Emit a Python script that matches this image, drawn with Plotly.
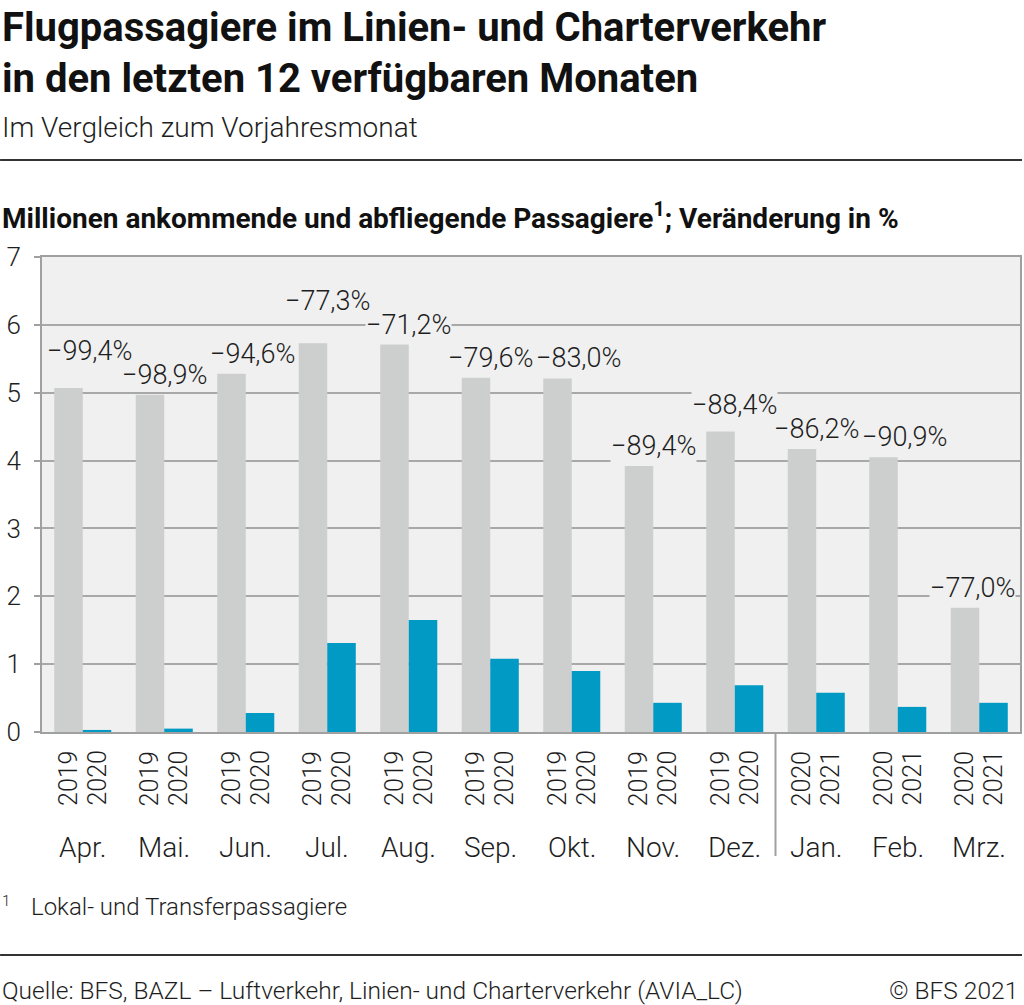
import plotly.graph_objects as go

# ---- data ----
months = ["Apr.", "Mai.", "Jun.", "Jul.", "Aug.", "Sep.", "Okt.", "Nov.", "Dez.", "Jan.", "Feb.", "Mrz."]
prev_year = ["2019"] * 9 + ["2020"] * 3
curr_year = ["2020"] * 9 + ["2021"] * 3
prev_values = [5.07, 4.97, 5.28, 5.73, 5.71, 5.22, 5.21, 3.92, 4.43, 4.17, 4.05, 1.83]
curr_values = [0.03, 0.05, 0.28, 1.31, 1.65, 1.08, 0.90, 0.43, 0.69, 0.58, 0.37, 0.43]
pct_labels = ["−99,4%", "−98,9%", "−94,6%", "−77,3%", "−71,2%", "−79,6%",
              "−83,0%", "−89,4%", "−88,4%", "−86,2%", "−90,9%", "−77,0%"]
y_ticks = [0, 1, 2, 3, 4, 5, 6, 7]
y_max = 7

# ---- layout geometry (pixels) ----
W, H = 1024, 1005
L, R, T, B = 42, 1022, 257, 732
PW, PH = R - L, B - T


def px(x):
    return (x - L) / PW


def py(y):
    return (B - y) / PH


FONT = "Roboto"
TXT = "#1e1e1e"
GRAY_BAR = "#cdcfce"
BLUE_BAR = "#009ac4"
PLOT_BG = "#f0f0f0"
GRID = "#a8a8a8"
AXIS = "#a0a0a0"

n = len(months)
fig = go.Figure()
fig.add_trace(go.Bar(x=list(range(n)), y=prev_values, marker_color=GRAY_BAR,
                     marker_line_width=0, name="Vorjahr", hoverinfo="y"))
fig.add_trace(go.Bar(x=list(range(n)), y=curr_values, marker_color=BLUE_BAR,
                     marker_line_width=0, name="Aktuell", hoverinfo="y"))

bargap = 0.3
half = (1 - bargap) / 4  # center offset of each bar inside its group

ann = []

# ---- percentage labels with simple collision avoidance (pixel estimate) ----
PCT_SIZE = 27
lab_w = 3.2 * PCT_SIZE
lab_h = 24
base_off = 20
gx = [L + (i + 0.5) * PW / n for i in range(n)]
tops = [B - v * PH / y_max for v in prev_values]
cx = [min(max(g, L + lab_w / 2 + 4), R - lab_w / 2 - 4) for g in gx]
cy = [t - base_off for t in tops]


def collide(a, b):
    return abs(cy[a] - cy[b]) < lab_h and abs(cx[b] - cx[a]) < lab_w + 2


for i in range(1, n):
    p = i - 1
    if not collide(p, i):
        continue
    # 1) raise the previous label if its bar is taller and that creates no new clash
    if prev_values[p] >= prev_values[i]:
        old = cy[p]
        cy[p] = cy[i] - lab_h
        if p - 1 >= 0 and collide(p - 1, p):
            cy[p] = old
        else:
            continue
    # 2) small horizontal nudge
    need = lab_w + 2 - (cx[i] - cx[p])
    if need <= 20:
        cx[i] += need
    else:
        cy[i] = cy[p] - lab_h

# pass 1: background boxes (interrupt grid lines), pass 2: the texts on top
for layer in ("bg", "fg"):
    for i, (v, t) in enumerate(zip(prev_values, pct_labels)):
        a = dict(x=i, y=v, xref="x", yref="y", text=t, showarrow=False,
                 yanchor="middle", xshift=cx[i] - gx[i], yshift=tops[i] - cy[i],
                 borderpad=0,
                 font=dict(family=FONT, size=PCT_SIZE, weight=300,
                           color=PLOT_BG if layer == "bg" else TXT))
        if layer == "bg":
            a["bgcolor"] = PLOT_BG
        ann.append(a)

# ---- year labels (rotated) and month labels ----
for i in range(n):
    for dx, lab in ((-half, prev_year[i]), (half, curr_year[i])):
        ann.append(dict(x=i + dx, y=0, xref="x", yref="y", text=lab, showarrow=False,
                        textangle=-90, yanchor="top", yshift=-17,
                        font=dict(family=FONT, size=25, color=TXT, weight=300)))
    ann.append(dict(x=i, y=0, xref="x", yref="y", text=months[i], showarrow=False,
                    yanchor="middle", yshift=-115,
                    font=dict(family=FONT, size=28, color=TXT, weight=300)))

# ---- titles and other texts ----
ann += [
    dict(x=px(0), y=py(27), xref="paper", yref="paper", xanchor="left", yanchor="middle",
         text="Flugpassagiere im Linien- und Charterverkehr", showarrow=False,
         font=dict(family=FONT, size=40, color="#111111", weight=700)),
    dict(x=px(0), y=py(78), xref="paper", yref="paper", xanchor="left", yanchor="middle",
         text="in den letzten 12 verfügbaren Monaten", showarrow=False,
         font=dict(family=FONT, size=40, color="#111111", weight=700)),
    dict(x=px(0), y=py(127), xref="paper", yref="paper", xanchor="left", yanchor="middle",
         text="Im Vergleich zum Vorjahresmonat", showarrow=False,
         font=dict(family=FONT, size=28, color=TXT, weight=300)),
    dict(x=px(0), y=py(217), xref="paper", yref="paper", xanchor="left", yanchor="middle",
         text="Millionen ankommende und abfliegende Passagiere<sup>1</sup>; Veränderung in %",
         showarrow=False, font=dict(family=FONT, size=28, color="#111111", weight=700)),
    dict(x=px(0), y=py(901), xref="paper", yref="paper", xanchor="left", yanchor="middle",
         text="1", showarrow=False, font=dict(family=FONT, size=15, color=TXT, weight=300)),
    dict(x=px(29), y=py(907), xref="paper", yref="paper", xanchor="left", yanchor="middle",
         text="Lokal- und Transferpassagiere", showarrow=False,
         font=dict(family=FONT, size=24, color=TXT, weight=300)),
    dict(x=px(0), y=py(990), xref="paper", yref="paper", xanchor="left", yanchor="middle",
         text="Quelle: BFS, BAZL – Luftverkehr, Linien- und Charterverkehr (AVIA_LC)",
         showarrow=False, font=dict(family=FONT, size=24.5, color=TXT, weight=300)),
    dict(x=px(1022), y=py(990), xref="paper", yref="paper", xanchor="right", yanchor="middle",
         text="© BFS 2021", showarrow=False, font=dict(family=FONT, size=24.5, color=TXT, weight=300)),
]

shapes = [
    dict(type="line", xref="paper", yref="paper", x0=px(0), x1=px(1024), y0=py(160), y1=py(160),
         line=dict(color="#333333", width=2)),
    dict(type="line", xref="paper", yref="paper", x0=px(0), x1=px(1024), y0=py(955), y1=py(955),
         line=dict(color="#333333", width=2)),
    dict(type="line", xref="x", yref="paper", x0=8.5, x1=8.5, y0=0, y1=py(856),
         line=dict(color=AXIS, width=2)),
]

fig.update_layout(
    width=W, height=H,
    margin=dict(l=L, r=W - R, t=T, b=H - B, pad=0),
    paper_bgcolor="white", plot_bgcolor=PLOT_BG,
    barmode="group", bargap=bargap, bargroupgap=0,
    showlegend=False,
    annotations=ann, shapes=shapes,
    font=dict(family=FONT, color=TXT),
    xaxis=dict(range=[-0.5, n - 0.5], showticklabels=False, showgrid=False,
               zeroline=False, showline=True, linecolor=AXIS, linewidth=2, mirror=True,
               ticks="", fixedrange=True),
    yaxis=dict(range=[0, y_max], tickvals=y_ticks, ticktext=[str(v) for v in y_ticks],
               showgrid=True, gridcolor=GRID, gridwidth=2, zeroline=False,
               showline=True, linecolor=AXIS, linewidth=2, mirror=True,
               ticks="outside", ticklen=6, tickwidth=2, tickcolor=AXIS,
               ticklabelstandoff=8,
               tickfont=dict(family=FONT, size=26, color=TXT, weight=300), fixedrange=True),
)

fig.write_html("out.html", config={"displayModeBar": False},
               post_script="document.body.style.margin='0';")
